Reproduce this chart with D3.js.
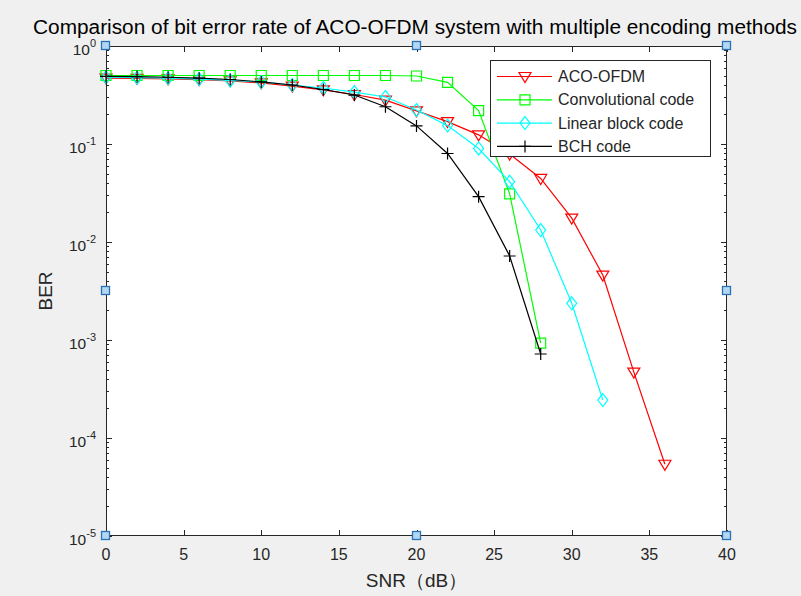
<!DOCTYPE html>
<html>
<head>
<title>ACO-OFDM BER comparison</title>
<style>
  body, html { margin: 0; padding: 0; background: #f0f0f0; }
  text { font-family: "Liberation Sans", Arial, Helvetica, sans-serif; fill: #262626; }
</style>
</head>
<body>
<svg id="chart" width="801" height="596"></svg>
<script src="https://d3js.org/d3.v7.min.js"></script>
<script>
  // values
  const snrAco = [0, 2, 4, 6, 8, 10, 12, 14, 16, 18, 20, 22, 24, 26, 28, 30, 32, 34, 36]
  const berAco = [0.47, 0.468, 0.462, 0.453, 0.44, 0.42, 0.39, 0.357, 0.32, 0.28, 0.218, 0.169, 0.124, 0.079, 0.0445, 0.0175, 0.0046, 0.00047, 0.000054]

  const snrConv = [0, 2, 4, 6, 8, 10, 12, 14, 16, 18, 20, 22, 24, 26, 28]
  const berConv = [0.5, 0.5, 0.5, 0.5, 0.5, 0.5, 0.5, 0.5, 0.5, 0.5, 0.494, 0.426, 0.219, 0.031, 0.00093]

  const snrLin = [0, 2, 4, 6, 8, 10, 12, 14, 16, 18, 20, 22, 24, 26, 28, 30, 32]
  const berLin = [0.48, 0.475, 0.47, 0.46, 0.445, 0.43, 0.40, 0.373, 0.339, 0.302, 0.222, 0.154, 0.09, 0.0412, 0.01325, 0.00237, 0.000244]

  const snrBch = [0, 2, 4, 6, 8, 10, 12, 14, 16, 18, 20, 22, 24, 26, 28]
  const berBch = [0.49, 0.487, 0.48, 0.47, 0.455, 0.43, 0.40, 0.36, 0.316, 0.24, 0.153, 0.080, 0.029, 0.0072, 0.00072]

  const seriesNames = ['ACO-OFDM', 'Convolutional code', 'Linear block code', 'BCH code']
  const xTicks = [0, 5, 10, 15, 20, 25, 30, 35, 40]
  const yExponents = [0, -1, -2, -3, -4, -5]

  const series = [
    { name: seriesNames[0], x: snrAco, y: berAco, color: '#ff0000', marker: 'tri' },
    { name: seriesNames[1], x: snrConv, y: berConv, color: '#00ff00', marker: 'square' },
    { name: seriesNames[2], x: snrLin, y: berLin, color: '#00ffff', marker: 'diamond' },
    { name: seriesNames[3], x: snrBch, y: berBch, color: '#000000', marker: 'plus' }
  ]

  const markerPath = {
    tri: 'M-6,-4L6,-4L0,6Z',
    square: 'M-5,-5H5V5H-5Z',
    diamond: 'M0,-6.5L5,0L0,6.5L-5,0Z',
    plus: 'M-6,0H6M0,-6V6'
  }

  const pLeft = 106, pRight = 727, pTop = 46, pBottom = 536
  const axisColor = '#262626'

  const svg = d3.select('#chart')

  svg.append('rect').attr('width', 801).attr('height', 596).attr('fill', '#f0f0f0')

  const x = d3.scaleLinear().domain([0, 40]).range([pLeft, pRight])
  const y = d3.scaleLog().domain([1e-5, 1]).range([pBottom, pTop])

  // plot area
  svg.append('rect')
    .attr('x', pLeft).attr('y', pTop)
    .attr('width', pRight - pLeft).attr('height', pBottom - pTop)
    .attr('fill', 'white')

  // ticks (inward, on all four sides)
  const ticks = svg.append('g').attr('stroke', axisColor).attr('stroke-width', 1)
  xTicks.forEach(t => {
    const px = Math.round(x(t)) + 0.5
    ticks.append('line').attr('x1', px).attr('x2', px).attr('y1', pBottom).attr('y2', pBottom - 6)
    ticks.append('line').attr('x1', px).attr('x2', px).attr('y1', pTop).attr('y2', pTop + 6)
  })
  for (let e = -5; e <= 0; e++) {
    for (let m = 1; m <= 9; m++) {
      const v = m * Math.pow(10, e)
      if (v > 1) break
      const py = Math.round(y(v)) + 0.5
      const len = m === 1 ? 6 : 3
      ticks.append('line').attr('x1', pLeft).attr('x2', pLeft + len).attr('y1', py).attr('y2', py)
      ticks.append('line').attr('x1', pRight).attr('x2', pRight - len).attr('y1', py).attr('y2', py)
    }
  }

  // series lines and markers
  const line = d3.line().x(d => x(d[0])).y(d => y(d[1]))
  series.forEach(s => {
    const pts = s.x.map((v, i) => [v, s.y[i]])
    svg.append('path')
      .attr('d', line(pts))
      .attr('fill', 'none')
      .attr('stroke', s.color)
      .attr('stroke-width', 1.2)
    svg.append('g')
      .selectAll('path')
      .data(pts)
      .join('path')
      .attr('transform', d => `translate(${x(d[0])},${y(d[1])})`)
      .attr('d', markerPath[s.marker])
      .attr('fill', 'none')
      .attr('stroke', s.color)
      .attr('stroke-width', 1.2)
  })

  // axes box
  svg.append('rect')
    .attr('x', pLeft + 0.5).attr('y', pTop + 0.5)
    .attr('width', pRight - pLeft - 1).attr('height', pBottom - pTop - 1)
    .attr('fill', 'none')
    .attr('stroke', axisColor)
    .attr('stroke-width', 1)

  // tick labels
  svg.append('g')
    .selectAll('text')
    .data(xTicks)
    .join('text')
    .attr('x', d => x(d))
    .attr('y', pBottom + 24)
    .attr('text-anchor', 'middle')
    .style('font-size', '16px')
    .text(d => d)

  const yLabels = svg.append('g')
  yExponents.forEach(e => {
    const t = yLabels.append('text')
      .attr('x', pLeft - 10)
      .attr('y', y(Math.pow(10, e)) + 9)
      .attr('text-anchor', 'end')
      .style('font-size', '15.5px')
    t.append('tspan').text('10')
    t.append('tspan').attr('dy', -8).style('font-size', '11px').text(e)
  })

  // titles
  svg.append('text')
    .attr('x', 415).attr('y', 34)
    .attr('text-anchor', 'middle')
    .attr('textLength', 764)
    .attr('lengthAdjust', 'spacingAndGlyphs')
    .style('font-size', '20px')
    .style('fill', '#000')
    .text('Comparison of bit error rate of ACO-OFDM system with multiple encoding methods')

  svg.append('text')
    .attr('x', (pLeft + pRight) / 2).attr('y', 587)
    .attr('text-anchor', 'middle')
    .style('font-size', '19px')
    .text('SNR（dB）')

  svg.append('text')
    .attr('transform', `translate(52,${(pTop + pBottom) / 2}) rotate(-90)`)
    .attr('text-anchor', 'middle')
    .style('font-size', '19px')
    .text('BER')

  // legend
  const legend = svg.append('g')
  legend.append('rect')
    .attr('x', 490.5).attr('y', 60.5)
    .attr('width', 220).attr('height', 96)
    .attr('fill', 'white')
    .attr('stroke', axisColor)
    .attr('stroke-width', 1)
  series.forEach((s, i) => {
    const ry = 76.5 + i * 23.3
    legend.append('line')
      .attr('x1', 497).attr('x2', 552).attr('y1', ry).attr('y2', ry)
      .attr('stroke', s.color).attr('stroke-width', 1.2)
    legend.append('path')
      .attr('transform', `translate(525,${ry})`)
      .attr('d', markerPath[s.marker])
      .attr('fill', 'none')
      .attr('stroke', s.color)
      .attr('stroke-width', 1.2)
    legend.append('text')
      .attr('x', 558).attr('y', ry + 5.5)
      .style('font-size', '16px')
      .text(s.name)
  })

  // figure selection handles
  const handles = []
  ;[pLeft, (pLeft + pRight) / 2, pRight].forEach(hx => {
    ;[pTop, (pTop + pBottom) / 2, pBottom].forEach(hy => {
      if (hx === (pLeft + pRight) / 2 && hy === (pTop + pBottom) / 2) return
      handles.push([hx, hy])
    })
  })
  svg.append('g')
    .selectAll('rect')
    .data(handles)
    .join('rect')
    .attr('x', d => Math.round(d[0]) - 4.5)
    .attr('y', d => Math.round(d[1]) - 4.5)
    .attr('width', 8).attr('height', 8)
    .attr('fill', '#b3d7f3')
    .attr('stroke', '#2a72b5')
    .attr('stroke-width', 1.3)
</script>
</body>
</html>
